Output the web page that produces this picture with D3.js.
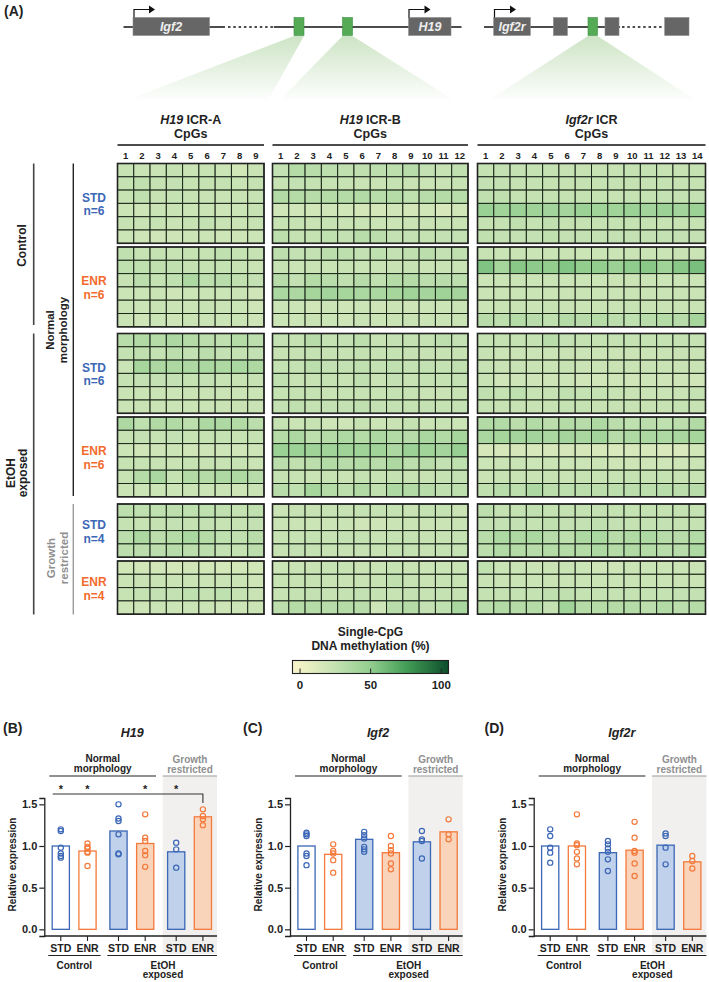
<!DOCTYPE html>
<html>
<head>
<meta charset="utf-8">
<script src="https://cdn.jsdelivr.net/npm/d3@7"></script>
<style>
  html, body { margin: 0; padding: 0; background: #fff; }
  svg { display: block; }
  text { font-family: "Liberation Sans", Arial, sans-serif; font-weight: bold; fill: #222; }
</style>
</head>
<body>
<svg id="fig"></svg>
<script>
var width = 709;
var height = 982;

// row labels of the six heatmap blocks
var blockGroups = ["STD", "ENR", "STD", "ENR", "STD", "ENR"];
var blockNs = [6, 6, 6, 6, 4, 4];

// single-CpG methylation (%), one list of rows per block
var h19A = [
  [[24,22,22,25,22,24,21,18,23],[25,27,25,26,24,25,25,23,25],[24,27,24,25,24,23,23,23,24],[21,20,22,23,21,22,20,21,24],[24,23,24,23,24,26,23,22,24],[21,20,19,20,21,21,20,20,21]],
  [[27,24,25,24,25,24,27,25,24],[28,28,27,27,25,25,25,24,23],[24,30,25,28,36,29,31,27,26],[21,21,22,20,21,22,21,22,19],[22,21,23,22,21,24,22,21,20],[23,20,21,20,22,22,21,22,20]],
  [[31,35,33,37,33,30,27,33,29],[25,27,25,30,26,30,26,25,26],[22,40,37,37,36,38,36,38,36],[25,26,26,26,25,26,24,24,24],[23,22,22,21,22,23,22,21,22],[22,23,22,22,22,22,23,23,23]],
  [[37,28,35,35,29,36,36,34,30],[24,26,24,26,24,25,25,24,25],[21,19,20,21,19,20,20,19,20],[25,24,24,23,24,24,24,24,22],[24,33,38,25,34,33,36,36,32],[22,21,21,21,22,21,22,20,22]],
  [[29,28,28,29,28,28,27,25,27],[25,24,25,26,25,26,24,24,26],[30,37,30,33,38,33,28,27,31],[29,30,29,32,30,29,26,25,30]],
  [[18,18,18,17,19,18,17,18,18],[22,23,22,22,22,22,22,22,20],[24,25,26,26,28,25,28,24,23],[20,20,22,21,22,22,20,21,22]]
];
var h19B = [
  [[26,33,31,29,27,27,29,29,31,26,24,27],[24,26,25,24,24,23,23,25,23,22,23,24],[34,33,32,33,33,34,31,33,28,31,33,31],[19,19,18,19,18,17,17,19,17,18,15,18],[24,24,23,24,23,23,22,22,22,23,24,23],[29,25,25,28,26,31,30,26,26,25,26,26]],
  [[29,26,26,30,29,26,28,26,27,30,26,27],[24,22,23,23,24,22,23,24,24,22,23,23],[32,26,33,31,27,32,27,33,33,30,31,29],[38,37,40,42,40,38,38,40,43,41,44,41],[21,21,19,21,20,21,20,22,20,21,21,22],[21,21,23,21,20,22,21,23,23,22,22,23]],
  [[26,25,32,25,26,29,24,26,25,25,29,26],[24,24,25,24,24,25,24,25,24,24,24,24],[25,25,30,26,26,27,25,27,25,26,25,27],[27,24,24,25,24,27,23,26,24,25,25,26],[25,25,25,23,24,24,24,25,24,23,23,24],[26,27,25,26,26,27,26,26,25,26,25,26]],
  [[25,22,24,20,20,24,21,23,25,22,24,21],[33,37,29,33,36,33,37,34,32,39,35,40],[46,45,44,43,44,44,43,37,45,43,41,48],[30,27,30,34,32,34,31,37,29,31,26,28],[25,24,22,24,23,25,24,25,24,24,25,26],[31,28,40,33,29,35,27,36,34,31,27,29]],
  [[22,24,24,24,24,25,25,25,23,25,25,23],[22,22,21,21,22,19,20,22,22,22,22,23],[24,24,25,24,26,25,24,25,25,24,24,25],[24,26,25,24,24,24,24,25,25,24,25,25]],
  [[21,22,23,24,24,23,22,24,23,21,22,23],[24,24,24,23,23,23,24,27,24,23,24,24],[24,25,26,24,25,26,25,24,25,24,25,25],[30,33,33,32,33,31,20,31,33,26,28,39]]
];
var igf2rICR = [
  [[25,26,25,25,25,24,24,24,24,25,25,24,24,25],[26,26,25,25,25,24,25,25,25,25,24,25,24,25],[27,27,25,25,25,25,25,25,24,25,25,26,25,26],[47,43,45,44,42,41,45,43,43,45,42,45,42,45],[25,25,27,25,27,25,25,25,25,25,25,24,24,25],[27,26,26,26,27,26,26,26,26,26,26,26,26,26]],
  [[24,22,23,22,22,23,21,22,22,22,22,22,23,22],[56,40,53,52,50,55,50,50,46,51,53,44,53,58],[21,22,22,21,22,21,21,21,22,22,22,21,21,21],[22,22,22,22,22,22,22,22,22,22,22,22,22,22],[22,23,23,22,24,23,22,23,23,24,23,23,23,23],[32,29,33,31,28,33,31,33,30,28,31,33,32,40]],
  [[25,25,25,25,31,26,25,25,25,25,25,25,25,25],[24,22,22,22,22,23,22,22,22,22,22,23,23,23],[24,23,23,23,23,24,22,22,23,23,23,23,23,23],[24,19,20,20,20,21,19,19,20,19,20,20,20,19],[27,25,28,24,24,27,25,25,24,23,22,23,23,25],[25,24,24,24,24,25,25,24,24,24,24,24,25,24]],
  [[34,34,30,34,30,33,32,36,30,28,30,28,30,35],[39,40,41,42,38,41,39,42,32,36,37,36,39,40],[16,15,16,15,16,16,16,15,13,15,15,14,13,18],[21,22,22,21,22,21,21,22,20,20,20,20,20,22],[23,24,23,23,24,23,24,24,24,25,24,25,24,24],[27,31,29,37,30,29,30,30,29,30,30,31,30,31]],
  [[29,25,25,27,25,25,25,26,25,25,25,25,25,25],[26,26,26,25,27,26,26,27,26,25,25,26,25,25],[31,36,36,38,32,29,36,38,32,35,36,32,32,34],[29,34,33,32,33,33,33,36,33,35,33,31,31,36]],
  [[27,22,22,22,23,23,21,20,20,22,22,22,22,22],[23,22,22,22,22,22,22,22,22,22,22,22,22,22],[25,25,25,25,27,27,25,25,25,25,25,25,26,26],[31,34,33,33,25,43,33,33,33,33,30,34,30,33]]
];

// relative expression, bars in the order Control STD/ENR, EtOH normal STD/ENR, EtOH growth restricted STD/ENR
var barGroups = ["STD", "ENR"];
var h19Bars = [1.00, 0.94, 1.18, 1.03, 0.93, 1.35];
var igf2Bars = [1.00, 0.90, 1.08, 0.92, 1.05, 1.17];
var igf2rBars = [1.00, 1.00, 0.92, 0.95, 1.01, 0.81];
var h19Dots = [
  [1.20,1.18,0.98,0.91,0.88,0.86],[1.03,0.99,0.97,0.93,0.92,0.76],[1.50,1.33,1.30,1.14,0.91,0.90],
  [1.38,1.10,1.06,0.94,0.89,0.75],[1.04,0.96,0.74],[1.44,1.36,1.32,1.25]
];
var igf2Dots = [
  [1.16,1.14,1.12,0.91,0.88,0.77],[1.02,0.94,0.91,0.83,0.68],[1.17,1.13,1.09,0.99,0.96,0.93],
  [1.12,1.00,0.95,0.91,0.79,0.72],[1.18,1.08,1.06,0.85],[1.32,1.14,1.08]
];
var igf2rDots = [
  [1.20,1.12,0.98,0.92,0.80],[1.38,1.03,1.01,0.93,0.85,0.78],[1.06,1.02,0.97,0.93,0.84,0.70],
  [1.29,1.10,0.94,0.92,0.79,0.64],[1.15,1.12,0.98,0.78],[0.88,0.82,0.73]
];
var yTicks = [0, 0.5, 1, 1.5];
var colorTicks = [0, 50, 100];

var blue = "#3b67b6";
var orange = "#f47a3c";
var grey = "#8f8f8f";
var ink = "#222";

var color = d3.scaleLinear()
  .domain([-5, 0, 25, 50, 75, 105])
  .range(["#f7f6cc", "#f3f3c6", "#c5e2b3", "#93ce8f", "#459f58", "#0d4f2b"]);

var svg = d3.select("#fig").attr("width", width).attr("height", height);
var defs = svg.append("defs");

function label(g, x, y, str, size, anchor, fill) {
  return g.append("text")
    .attr("x", x).attr("y", y)
    .attr("font-size", size)
    .attr("text-anchor", anchor || "middle")
    .style("fill", fill || ink)
    .text(str);
}

function rotated(x, y, str, size, fill) {
  return svg.append("text")
    .attr("transform", "translate(" + x + "," + y + ") rotate(-90)")
    .attr("font-size", size)
    .attr("text-anchor", "middle")
    .style("fill", fill || ink)
    .text(str);
}

function seg(g, x1, y1, x2, y2, stroke, w, dash) {
  return g.append("line")
    .attr("x1", x1).attr("y1", y1).attr("x2", x2).attr("y2", y2)
    .attr("stroke", stroke || ink)
    .attr("stroke-width", w || 1.4)
    .attr("stroke-dasharray", dash || null);
}

/* ---------- panel A, gene models ---------- */
label(svg, 4, 16, "(A)", 14, "start");

var fade = defs.append("linearGradient").attr("id", "fade").attr("x1", 0).attr("y1", 0).attr("x2", 0).attr("y2", 1);
fade.append("stop").attr("offset", 0).attr("stop-color", "#cde4c5");
fade.append("stop").attr("offset", 1).attr("stop-color", "#ffffff");

[[294, 304, 122, 267], [342.5, 352.5, 278, 457], [588, 597.5, 486, 699]].forEach(function(t) {
  svg.append("path")
    .attr("d", "M" + t[0] + ",36L" + t[1] + ",36L" + t[3] + ",102L" + t[2] + ",102Z")
    .attr("fill", "url(#fade)");
});

seg(svg, 123.5, 27, 225, 27, "#111", 1.4);
seg(svg, 228, 27, 273, 27, "#111", 1.5, "2.5,2.8");
seg(svg, 273.8, 27, 461.5, 27, "#111", 1.4);
seg(svg, 484, 27, 620, 27, "#111", 1.4);
seg(svg, 622, 27, 663, 27, "#111", 1.5, "2.5,2.8");

[[133, 209.5], [408.6, 451], [493.7, 530.3], [553.4, 567.4], [605, 619], [664.7, 689]].forEach(function(b) {
  svg.append("rect").attr("x", b[0]).attr("y", 17.5).attr("width", b[1] - b[0]).attr("height", 18)
    .attr("fill", "#666").attr("stroke", "#8a8a8a").attr("stroke-width", 0.6);
});
[[294, 304], [342.5, 352.5], [588, 597.5]].forEach(function(b) {
  svg.append("rect").attr("x", b[0]).attr("y", 17.5).attr("width", b[1] - b[0]).attr("height", 18)
    .attr("fill", "#55ab55").attr("stroke", "#3f8f45").attr("stroke-width", 0.6);
});
[[171, "Igf2"], [430, "H19"], [512, "Igf2r"]].forEach(function(d) {
  label(svg, d[0], 31, d[1], 12.5, "middle", "#eee").attr("font-style", "italic");
});
[[134, 149], [409, 424.5], [494.5, 510]].forEach(function(a) {
  svg.append("path").attr("d", "M" + a[0] + ",17.5V9.5H" + a[1]).attr("fill", "none").attr("stroke", "#111").attr("stroke-width", 1.2);
  svg.append("path").attr("d", "M" + a[1] + ",5.5L" + (a[1] + 6) + ",9.5L" + a[1] + ",13.5Z").attr("fill", "#111");
});

/* ---------- panel A, heatmaps ---------- */
var blockTops = [163.5, 247, 333.5, 417, 504, 561];
var rowH = 13.3;

function drawRegion(rows, x0, x1, italicPart, restPart) {
  var g = svg.append("g");
  var cols = d3.range(1, rows[0][0].length + 1);
  var x = d3.scaleBand().domain(cols).range([x0, x1]);
  var mid = (x0 + x1) / 2;

  var t = label(g, mid, 124, "", 12.5);
  t.append("tspan").attr("font-style", "italic").text(italicPart);
  t.append("tspan").text(restPart);
  label(g, mid, 138, "CpGs", 12.5);
  seg(g, x0, 145, x1, 145, "#111", 1.5);

  g.selectAll(".num").data(cols).enter().append("text")
    .attr("x", function(d) { return x(d) + x.bandwidth() / 2; })
    .attr("y", 158.5)
    .attr("text-anchor", "middle")
    .attr("font-size", 9.5)
    .text(function(d) { return d; });

  rows.forEach(function(block, b) {
    var y = d3.scaleBand().domain(d3.range(block.length)).range([blockTops[b], blockTops[b] + block.length * rowH]);
    var bg = g.append("g");
    block.forEach(function(row, r) {
      bg.selectAll(null).data(row).enter().append("rect")
        .attr("x", function(d, i) { return x(i + 1); })
        .attr("y", y(r))
        .attr("width", x.bandwidth())
        .attr("height", y.bandwidth())
        .attr("fill", function(d) { return color(d); })
        .attr("stroke", "#1a251a")
        .attr("stroke-width", 1);
    });
    bg.append("rect")
      .attr("x", x0).attr("y", blockTops[b])
      .attr("width", x1 - x0).attr("height", block.length * rowH)
      .attr("fill", "none").attr("stroke", "#222").attr("stroke-width", 1.6);
  });
}

drawRegion(h19A, 117.5, 264, "H19", " ICR-A");
drawRegion(h19B, 272.5, 468, "H19", " ICR-B");
drawRegion(igf2rICR, 477.5, 705.5, "Igf2r", " ICR");

blockGroups.forEach(function(g, b) {
  var c = g === "STD" ? blue : "#f26b2c";
  var mid = blockTops[b] + blockNs[b] * rowH / 2;
  label(svg, 94, mid - 1.5, g, 12, "middle", c);
  label(svg, 94, mid + 12, "n=" + blockNs[b], 12, "middle", c);
});

seg(svg, 33.7, 163.5, 33.7, 325, "#444", 1.6);
seg(svg, 33.7, 333.5, 33.7, 614.5, "#444", 1.6);
seg(svg, 73.3, 163.5, 73.3, 496, "#222", 1.4);
seg(svg, 73.3, 504, 73.3, 614.5, "#999", 1.4);
rotated(26, 245.5, "Control", 12);
rotated(14.5, 473, "EtOH", 12);
rotated(27, 473, "exposed", 12);
rotated(54, 330, "Normal", 11.5);
rotated(66.5, 330, "morphology", 11.5);
rotated(55, 558, "Growth", 11.5, grey);
rotated(67.5, 558, "restricted", 11.5, grey);

/* ---------- colour key ---------- */
var keyX = d3.scaleLinear().domain([-5, 105.5]).range([292.5, 448.5]);
var keyGrad = defs.append("linearGradient").attr("id", "key");
d3.range(-5, 106, 5).forEach(function(v) {
  keyGrad.append("stop").attr("offset", (v + 5) / 110.5).attr("stop-color", color(v));
});
label(svg, 370.5, 636, "Single-CpG", 12);
label(svg, 370.5, 649.5, "DNA methylation (%)", 12);
svg.append("rect").attr("x", 292.5).attr("y", 660.5).attr("width", 156).attr("height", 13)
  .attr("fill", "url(#key)").attr("stroke", "#222").attr("stroke-width", 1.1);
var keyAxis = svg.append("g").attr("transform", "translate(0,673.5)")
  .call(d3.axisBottom(keyX).tickValues(colorTicks).tickSize(-5).tickPadding(7));
keyAxis.select(".domain").remove();
keyAxis.selectAll("line").attr("stroke", "#222").attr("stroke-width", 1);
keyAxis.selectAll("text").attr("font-size", 11.5).attr("font-family", null).style("fill", ink);

/* ---------- panels B, C, D ---------- */
var yScale = d3.scaleLinear().domain([-0.08, 1.576]).range([936, 798]);
var groupX = d3.scalePoint().domain([0, 1, 2]).range([16.5, 131.9]);
var innerX = d3.scalePoint().domain(barGroups).range([0, 26.7]);

function drawBars(left, letter, letterX, title, bars, dots, bracket) {
  var g = svg.append("g").attr("transform", "translate(" + left + ",0)");
  var cx = function(i) { return groupX(Math.floor(i / 2)) + innerX(barGroups[i % 2]); };

  label(svg, letterX, 732.5, letter, 14, "start");
  label(g, 88, 736.5, title, 12.5).attr("font-style", "italic");

  g.append("rect").attr("x", 118.4).attr("y", 776).attr("width", 54.3).attr("height", 178)
    .attr("fill", "#f1f0ee");

  label(g, 58.4, 762, "Normal", 10);
  label(g, 58.4, 772, "morphology", 10);
  seg(g, 5, 776, 111.7, 776, "#222", 1.2);
  label(g, 145.7, 763, "Growth", 10, "middle", grey);
  label(g, 145.7, 773, "restricted", 10, "middle", grey);
  seg(g, 118.4, 776, 172.7, 776, "#999", 1.2);

  bars.forEach(function(v, i) {
    var c = i % 2 === 0 ? blue : orange;
    var fill = i < 2 ? "#fff" : (i % 2 === 0 ? "#bfd1eb" : "#f9d3ba");
    g.append("rect")
      .attr("x", cx(i) - 8.6)
      .attr("y", yScale(v))
      .attr("width", 17.2)
      .attr("height", yScale(0) - yScale(v))
      .attr("fill", fill)
      .attr("stroke", c)
      .attr("stroke-width", 1.3);
  });

  dots.forEach(function(list, i) {
    g.selectAll(null).data(list).enter().append("circle")
      .attr("cx", cx(i))
      .attr("cy", function(d) { return yScale(d); })
      .attr("r", 2.6)
      .attr("fill", "none")
      .attr("stroke", i % 2 === 0 ? blue : orange)
      .attr("stroke-width", 1.2);
  });

  var yAxis = g.append("g")
    .call(d3.axisLeft(yScale).tickValues(yTicks).tickFormat(d3.format(".1f")).tickSizeOuter(0).tickSize(5).tickPadding(2));
  yAxis.select(".domain").attr("stroke", "#222").attr("stroke-width", 1.3);
  yAxis.selectAll("line").attr("stroke", "#222").attr("stroke-width", 1.2);
  yAxis.selectAll("text").attr("font-size", 11).attr("font-family", null).style("fill", ink);

  seg(g, 0, 936, 172.7, 936, "#222", 1.3);
  bars.forEach(function(v, i) {
    seg(g, cx(i), 936, cx(i), 941, "#222", 1.1);
    label(g, cx(i), 951.7, barGroups[i % 2], 10.5);
  });

  seg(g, 4, 955.5, 56.3, 955.5, "#222", 1.2);
  seg(g, 63, 955.5, 172.7, 955.5, "#222", 1.2);
  label(g, 30, 969, "Control", 10);
  label(g, 118.7, 968.5, "EtOH", 10);
  label(g, 118.7, 978, "exposed", 10);

  rotated(left - 28, 864.5, "Relative expression", 10);

  if (bracket) {
    g.append("path")
      .attr("d", "M" + 8.4 + ",794H" + cx(5) + "V803")
      .attr("fill", "none").attr("stroke", "#333").attr("stroke-width", 1.1);
    [0, 1, 3, 4].forEach(function(i) {
      label(g, cx(i), 793, "*", 11);
    });
  }
}

drawBars(44.3, "(B)", 3, "H19", h19Bars, h19Dots, true);
drawBars(290, "(C)", 243, "Igf2", igf2Bars, igf2Dots, false);
drawBars(533.7, "(D)", 484.5, "Igf2r", igf2rBars, igf2rDots, false);
</script>
</body>
</html>
